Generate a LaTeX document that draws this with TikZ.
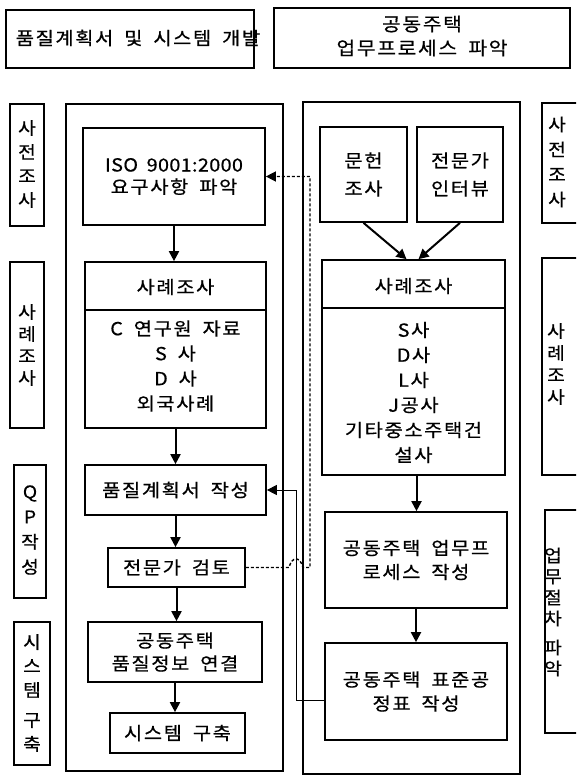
\documentclass[tikz,border=0pt]{standalone}
\usepackage{fontspec}
\setmainfont[FakeStretch=1.1,LetterSpace=9,FakeBold=0.6,WordSpace=1.8]{Noto Sans CJK KR}
\usetikzlibrary{arrows.meta}
\begin{document}
\begin{tikzpicture}[x=1pt,y=-1pt,
  panel/.style={draw, line width=2.3pt, inner sep=0pt},
  boxn/.style={draw, line width=1.7pt, align=center, inner sep=0pt, font=\fontsize{18}{24}\selectfont},
  lblbox/.style={draw, line width=2pt, inner sep=0pt},
  txt/.style={align=center, inner sep=0pt, font=\fontsize{18}{25}\selectfont},
  vtxt/.style={align=center, inner sep=0pt, font=\fontsize{17.5}{22}\selectfont},
  arr/.style={line width=2pt, -{Triangle[length=10pt,width=10pt]}},
  dsh/.style={line width=1.4pt, dash pattern=on 3pt off 2pt, -{Triangle[length=10pt,width=10pt]}},
  thinarr/.style={line width=1pt, -{Triangle[length=10pt,width=10pt]}}]
\useasboundingbox (0,0) rectangle (576,778);
\clip (0,0) rectangle (576,778);
\fill[white] (0,0) rectangle (576,778);

% titles
\node[lblbox, minimum width=248pt, minimum height=58pt] (t1) at (130,39) {};
\node[txt, font=\fontsize{18}{24}\selectfont] (t1t) at (138,38) {품질계획서 및 시스템 개발};
\node[lblbox, minimum width=296pt, minimum height=60pt] (t2) at (422,38) {};
\node[txt, font=\fontsize{18.5}{24}\selectfont] (t2t) at (422,36) {공동주택\\업무프로세스 파악};

% side labels left
\node[lblbox, minimum width=34pt, minimum height=122pt] (l1) at (27,165) {};
\node[vtxt, font=\fontsize{17.5}{24}\selectfont] (l1t) at (27,164) {사\\전\\조\\사};
\node[lblbox, minimum width=34pt, minimum height=166pt] (l2) at (27,345) {};
\node[vtxt] (l2t) at (27,345) {사\\례\\조\\사};
\node[lblbox, minimum width=32pt, minimum height=133pt] (l3) at (30,531.5) {};
\node[vtxt, font=\fontsize{17.5}{25}\selectfont] (l3t) at (30,530) {Q\\P\\작\\성};
\node[lblbox, minimum width=36pt, minimum height=143pt] (l4) at (32,693.5) {};
\node[vtxt, font=\fontsize{17.5}{24}\selectfont] (l4t) at (32,693) {시\\스\\템\\[6pt]구\\축};

% side labels right
\node[lblbox, minimum width=48pt, minimum height=120pt] (r1) at (566,163) {};
\node[vtxt, font=\fontsize{17.5}{25}\selectfont] (r1t) at (557,162) {사\\전\\조\\사};
\node[lblbox, minimum width=48pt, minimum height=217pt] (r2) at (566,366.5) {};
\node[vtxt, font=\fontsize{17.5}{22}\selectfont] (r2t) at (556,364) {사\\례\\조\\사};
\node[lblbox, minimum width=45pt, minimum height=223pt] (r3) at (567.5,621.5) {};
\node[vtxt, font=\fontsize{17.5}{21}\selectfont] (r3t) at (553,612) {업\\무\\절\\차\\[8pt]파\\악};

% panels
\node[panel, minimum width=217pt, minimum height=667pt] (lp) at (174.5,437.5) {};
\node[panel, minimum width=217pt, minimum height=672pt] (rp) at (411.5,438) {};

% left panel boxes
\node[boxn, minimum width=182pt, minimum height=97pt, font=\fontsize{18}{22}\selectfont] (iso) at (174,176.5) {{\addfontfeatures{LetterSpace=2}ISO 9001:2000}\\요구사항 파악};
\node[boxn, minimum width=181pt, minimum height=166pt] (lcase) at (175.5,345) {};
\node[txt] (lcaseh) at (175.5,287) {사례조사};
\node[txt] (lcaseb) at (175.5,366) {C 연구원 자료\\S 사\\D 사\\외국사례};
\draw[line width=1.4pt] (lcase.west |- 0,310) -- (lcase.east |- 0,310);
\node[boxn, minimum width=181pt, minimum height=50pt] (qp) at (175.5,490) {품질계획서 작성};
\node[boxn, minimum width=137pt, minimum height=39pt] (rev) at (176.5,567.5) {전문가 검토};
\node[boxn, minimum width=174pt, minimum height=60pt, font=\fontsize{18}{23}\selectfont] (link) at (175,652) {공동주택\\품질정보 연결};
\node[boxn, minimum width=135pt, minimum height=40pt] (sys) at (177.5,733) {시스템 구축};

% right panel boxes
\node[boxn, minimum width=87pt, minimum height=95pt, font=\fontsize{18}{28}\selectfont] (lit) at (363.5,174.5) {문헌\\조사};
\node[boxn, minimum width=86pt, minimum height=95pt, font=\fontsize{18}{28}\selectfont] (int) at (460,174.5) {전문가\\인터뷰};
\node[boxn, minimum width=183pt, minimum height=215pt] (rcase) at (413.5,367.5) {};
\node[txt] (rcaseh) at (413.5,286) {사례조사};
\node[txt] (rcaseb) at (413.5,392.5) {S사\\D사\\L사\\J공사\\기타중소주택건\\설사};
\draw[line width=1.4pt] (rcase.west |- 0,308) -- (rcase.east |- 0,308);
\node[boxn, minimum width=182pt, minimum height=96pt] (proc) at (416,560) {공동주택 업무프\\로세스 작성};
\node[boxn, minimum width=182pt, minimum height=97pt] (sched) at (416,691.5) {공동주택 표준공\\정표 작성};

% left arrows
\draw[arr] (iso.south) -- (iso.south |- lcase.north);
\draw[arr] (lcase.south) -- (lcase.south |- qp.north);
\draw[arr] (qp.south) -- (qp.south |- rev.north);
\draw[arr] (rev.south) -- (rev.south |- link.north);
\draw[arr] (link.south) -- (link.south |- sys.north);

% right arrows
\draw[arr] (lit.south) -- ([xshift=-7pt]rcase.north);
\draw[arr] (int.south) -- ([xshift=5pt]rcase.north);
\draw[arr] ([xshift=3pt]rcase.south) -- ([xshift=3pt]rcase.south |- proc.north);
\draw[arr] (proc.south) -- (proc.south |- sched.north);

% dashed feedback: review -> ISO
\coordinate (h1) at (289,567.5);
\coordinate (h2) at (303,567.5);
\coordinate (d1) at (310,567.5);
\coordinate (d2) at (310,176.5);
\draw[dsh] (rev.east) -- (h1) .. controls (292,556) and (300,556) .. (h2) -- (d1) -- (d2) -- (iso.east);

% thin solid: schedule -> quality plan
\coordinate (s1) at (296,700);
\coordinate (s2) at (296,490);
\draw[thinarr] (sched.west |- s1) -- (s1) -- (s2) -- (qp.east);
\end{tikzpicture}
\end{document}
